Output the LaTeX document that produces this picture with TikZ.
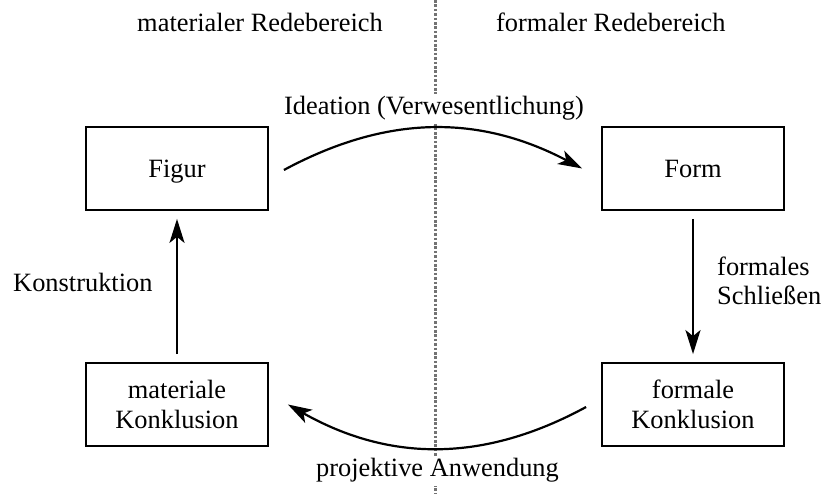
\documentclass[tikz,border=0pt]{standalone}
\usepackage{fontspec}
\setmainfont{Liberation Serif}
\usetikzlibrary{arrows.meta}
\tikzset{
  box/.style={draw, line width=1.8bp, minimum width=182bp, minimum height=83bp, align=center, inner sep=0pt},
  onebox/.style={box, text height=17.4bp, text depth=0pt},
  lbl/.style={inner sep=0pt, align=left},
  arr/.style={line width=2.2bp, -{Stealth[length=24bp,width=15bp,inset=6bp]}},
  divider/.style={draw=black!55, line width=3bp, dash pattern=on 2.6bp off 1.8bp}
}
\begin{document}
\begin{tikzpicture}[x=1bp,y=1bp,every node/.style={font=\fontsize{26.4bp}{29.5bp}\selectfont}]
\useasboundingbox (0,0) rectangle (823,494);
% divider
\coordinate (dtop) at (435,494);
\coordinate (dbot) at (435,0);
\draw[divider] (dtop) -- (dbot);
% headers
\node[lbl, anchor=base] (hmat) at (260,462) {materialer Redebereich};
\node[lbl, anchor=base west] (hform) at (496,462) {formaler Redebereich};
% boxes
\node[onebox] (figur) at (177,325.5) {Figur};
\node[onebox] (form) at (693,325.5) {Form};
\node[box] (matk) at (177,89.5) {materiale\\Konklusion};
\node[box] (fork) at (693,89.5) {formale\\Konklusion};
% arrows
\draw[arr] ([xshift=15bp,yshift=-1.5bp]figur.east) to[bend left=28] ([xshift=-19bp]form.west);
\draw[arr] ([xshift=-15bp,yshift=-2.5bp]fork.west) to[bend left=29] ([xshift=19bp]matk.east);
\draw[arr, shorten <=8bp, shorten >=8bp] (form.south) -- (fork.north);
\draw[arr, shorten <=8bp, shorten >=8bp] (matk.north) -- (figur.south);
% labels
\node[lbl, anchor=base, fill=white, inner sep=3bp] (lideation) at (434,379) {Ideation (Verwesentlichung)};
\node[lbl, anchor=base, fill=white, inner sep=3bp] (lprojektiv) at (437.5,17) {projektive Anwendung};
\node[lbl, anchor=base west] (lkonstr) at (13,202) {Konstruktion};
\node[lbl, anchor=west] (lschluss) at (717,213) {formales\\Schließen};
\end{tikzpicture}
\end{document}
